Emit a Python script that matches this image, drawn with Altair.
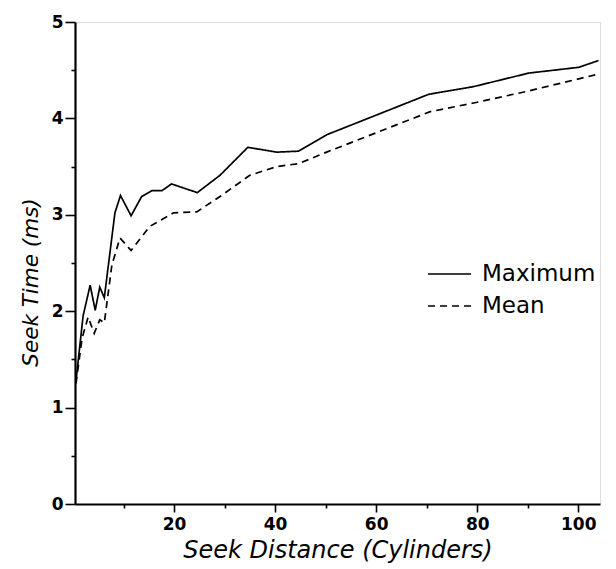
import altair as alt
import pandas as pd

# Maximum seek time series
max_x = [0.6, 2.0, 3.4, 4.4, 5.3, 6.2, 7.3, 8.3, 9.4, 11.5, 13.6, 15.6, 17.6, 19.5,
         24.6, 29.1, 34.6, 40.3, 44.6, 50.2, 70.4, 79.3, 90.2, 100.1, 104.0]
max_y = [1.28, 1.95, 2.27, 2.01, 2.25, 2.14, 2.60, 3.02, 3.20, 2.99, 3.19, 3.25, 3.25, 3.32,
         3.23, 3.41, 3.70, 3.65, 3.66, 3.83, 4.25, 4.33, 4.47, 4.53, 4.60]

# Mean seek time series
mean_x = [0.6, 1.8, 3.0, 4.2, 5.3, 6.2, 7.7, 9.3, 11.5, 15.2, 19.9, 24.5, 29.1,
          35.0, 40.3, 44.6, 50.2, 70.7, 79.3, 89.8, 104.0]
mean_y = [1.25, 1.72, 1.94, 1.77, 1.91, 1.88, 2.48, 2.76, 2.63, 2.88, 3.02, 3.03, 3.19,
          3.41, 3.50, 3.53, 3.65, 4.07, 4.16, 4.28, 4.46]

series_names = ["Maximum", "Mean"]
x_ticks = [20, 40, 60, 80, 100]
x_minor = [10, 30, 50, 70, 90]
y_ticks = [0, 1, 2, 3, 4, 5]
y_minor = [0.5, 1.5, 2.5, 3.5, 4.5]

df = pd.concat([
    pd.DataFrame({"x": max_x, "y": max_y, "series": series_names[0]}),
    pd.DataFrame({"x": mean_x, "y": mean_y, "series": series_names[1]}),
])

FONT = "DejaVu Sans"
xscale = alt.Scale(domain=[0.4, 104.3], nice=False, zero=False)
yscale = alt.Scale(domain=[0, 5], nice=False)

lines = alt.Chart(df).mark_line(color="black", strokeWidth=1.7).encode(
    x=alt.X("x:Q", scale=xscale, axis=alt.Axis(
        orient="bottom", values=x_ticks, grid=False, tickSize=8, tickWidth=1.6,
        labelPadding=4, labelFontSize=17, labelFontWeight="bold", labelFont=FONT,
        labelColor="black", domainColor="black", domainWidth=2.2, tickColor="black",
        title="Seek Distance (Cylinders)", titleFont=FONT, titleFontSize=24,
        titleFontStyle="italic", titleFontWeight="normal", titleColor="black",
        titleBaseline="alphabetic", titleY=53)),
    y=alt.Y("y:Q", scale=yscale, axis=alt.Axis(
        orient="left", values=y_ticks, grid=False, tickSize=10, tickWidth=1.6,
        labelPadding=2, labelFontSize=17, labelFontWeight="bold", labelFont=FONT,
        labelColor="black", domainColor="black", domainWidth=2.2, tickColor="black",
        title="Seek Time (ms)", titleFont=FONT, titleFontSize=21.5,
        titleFontStyle="italic", titleFontWeight="normal", titleColor="black",
        titleBaseline="alphabetic", titleX=-38, titleY=260, titleAngle=270)),
    strokeDash=alt.StrokeDash("series:N",
        scale=alt.Scale(domain=series_names, range=[[1, 0], [7, 5]]),
        legend=alt.Legend(orient="none", legendX=352, legendY=236, title="",
                          symbolType="stroke", symbolSize=1849, symbolStrokeWidth=1.6,
                          symbolStrokeColor="black", labelFont=FONT, labelFontSize=23,
                          labelColor="black", labelOffset=10, padding=0, rowPadding=0,
                          clipHeight=32)),
)

minor = alt.Chart(df).mark_point(opacity=0).encode(
    x=alt.X("x:Q", scale=xscale, axis=alt.Axis(
        orient="bottom", values=x_minor, grid=False, domain=False, labels=False,
        tickSize=4, tickWidth=1.6, tickColor="black", title="")),
    y=alt.Y("y:Q", scale=yscale, axis=alt.Axis(
        orient="left", values=y_minor, grid=False, domain=False, labels=False,
        tickSize=4, tickWidth=1.6, tickColor="black", title="")),
)

chart = alt.layer(lines, minor).resolve_axis(x="independent", y="independent").properties(
    width=525, height=482,
    autosize=alt.AutoSizeParams(type="none"),
    padding={"left": 67, "top": 14, "right": 8, "bottom": 60},
).configure_view(stroke=None).configure(background="white")

chart.save("out.html", embed_options={"renderer": "svg", "actions": False})
